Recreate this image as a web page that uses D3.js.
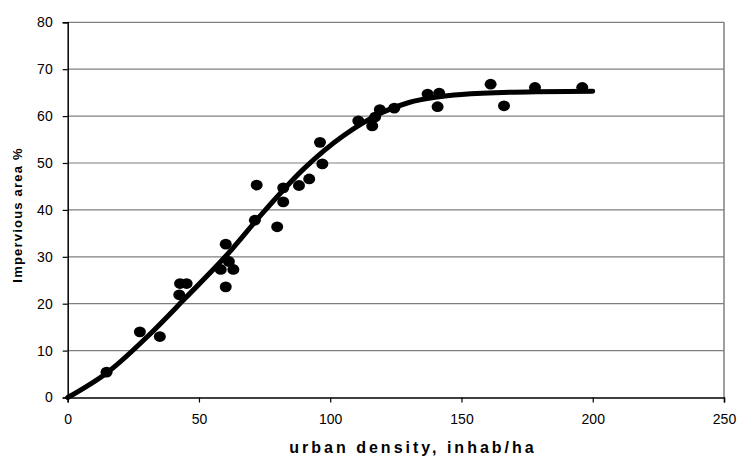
<!DOCTYPE html>
<html><head><meta charset="utf-8">
<script src="https://cdn.jsdelivr.net/npm/d3@7"></script>
<style>body{margin:0;background:#fff}svg{display:block}</style>
</head><body>
<script>
const pointX = [14.8,27.5,35.1,42.8,45.3,42.5,60.2,58.3,61.4,63.1,60.2,71.3,72.0,82.1,82.1,79.8,88.1,92.0,96.1,97.0,110.7,116.0,117.1,118.9,124.4,137.1,141.5,140.9,161.1,166.2,178.0,196.0];
const pointY = [5.4,14.0,13.0,24.3,24.3,21.9,32.7,27.3,29.0,27.3,23.6,37.8,45.3,44.7,41.7,36.4,45.2,46.6,54.4,49.8,59.0,57.9,59.8,61.4,61.7,64.7,64.9,62.0,66.8,62.2,66.1,66.1];
const curveX = [0,15,30,45,60,75,90,105,120,130,140,150,170,200];
const curveY = [0,5.3,12.8,21.3,30.0,39.8,48.8,55.8,60.8,62.9,64.0,64.6,65.1,65.3];
const xTicks = [0,50,100,150,200,250];
const yTicks = [0,10,20,30,40,50,60,70,80];
const xTitle = "urban density, inhab/ha";
const yTitle = "Impervious area %";

const W = 738, H = 459;
const svg = d3.select("body").append("svg").attr("width", W).attr("height", H);
const x = d3.scaleLinear().domain([0,250]).range([67.7,724]);
const y = d3.scaleLinear().domain([0,80]).range([397.5,22.3]);
const font = "'Liberation Sans', Arial, sans-serif";

// gridlines
svg.append("g").selectAll("line").data(yTicks.filter(d=>d>0)).join("line")
  .attr("x1", x(0)).attr("x2", x(250)).attr("y1", d=>y(d)).attr("y2", d=>y(d))
  .attr("stroke", "#7f7f7f").attr("stroke-width", 1.2);
// right border
svg.append("line").attr("x1", x(250)).attr("x2", x(250)).attr("y1", y(80)).attr("y2", y(0))
  .attr("stroke", "#7f7f7f").attr("stroke-width", 1.5);

// axes
const xAxis = svg.append("g").attr("transform", `translate(0,${y(0)})`)
  .call(d3.axisBottom(x).tickValues(xTicks).tickSize(5).tickPadding(12).tickFormat(d3.format("d")));
const yAxis = svg.append("g").attr("transform", `translate(${x(0)},0)`)
  .call(d3.axisLeft(y).tickValues(yTicks).tickSize(5).tickPadding(10).tickFormat(d3.format("d")));
[xAxis, yAxis].forEach(g => {
  g.select(".domain").attr("stroke", "#000").attr("stroke-width", 1.5);
  g.selectAll(".tick line").attr("stroke", "#000").attr("stroke-width", 1.2);
  g.selectAll(".tick text").attr("font-family", font).attr("font-size", 14).attr("fill", "#000");
});

// fitted curve
const curveData = curveX.map((v,i)=>[v, curveY[i]]);
svg.append("path").datum(curveData)
  .attr("d", d3.line().x(d=>x(d[0])).y(d=>y(d[1])).curve(d3.curveCatmullRom))
  .attr("fill", "none").attr("stroke", "#000").attr("stroke-width", 5).attr("stroke-linecap", "round");

// points
svg.append("g").selectAll("ellipse").data(pointX.map((v,i)=>[v, pointY[i]])).join("ellipse")
  .attr("cx", d=>x(d[0])).attr("cy", d=>y(d[1])).attr("rx", 6).attr("ry", 5.4).attr("fill", "#000");

// titles
svg.append("text").attr("x", 413).attr("y", 453).attr("text-anchor", "middle")
  .attr("font-family", font).attr("font-weight", "bold").attr("font-size", 16)
  .attr("letter-spacing", 3).text(xTitle);
svg.append("text").attr("transform", `translate(22,215) rotate(-90)`).attr("text-anchor", "middle")
  .attr("font-family", font).attr("font-weight", "bold").attr("font-size", 13)
  .attr("letter-spacing", 1.2).text(yTitle);
</script>
</body></html>
